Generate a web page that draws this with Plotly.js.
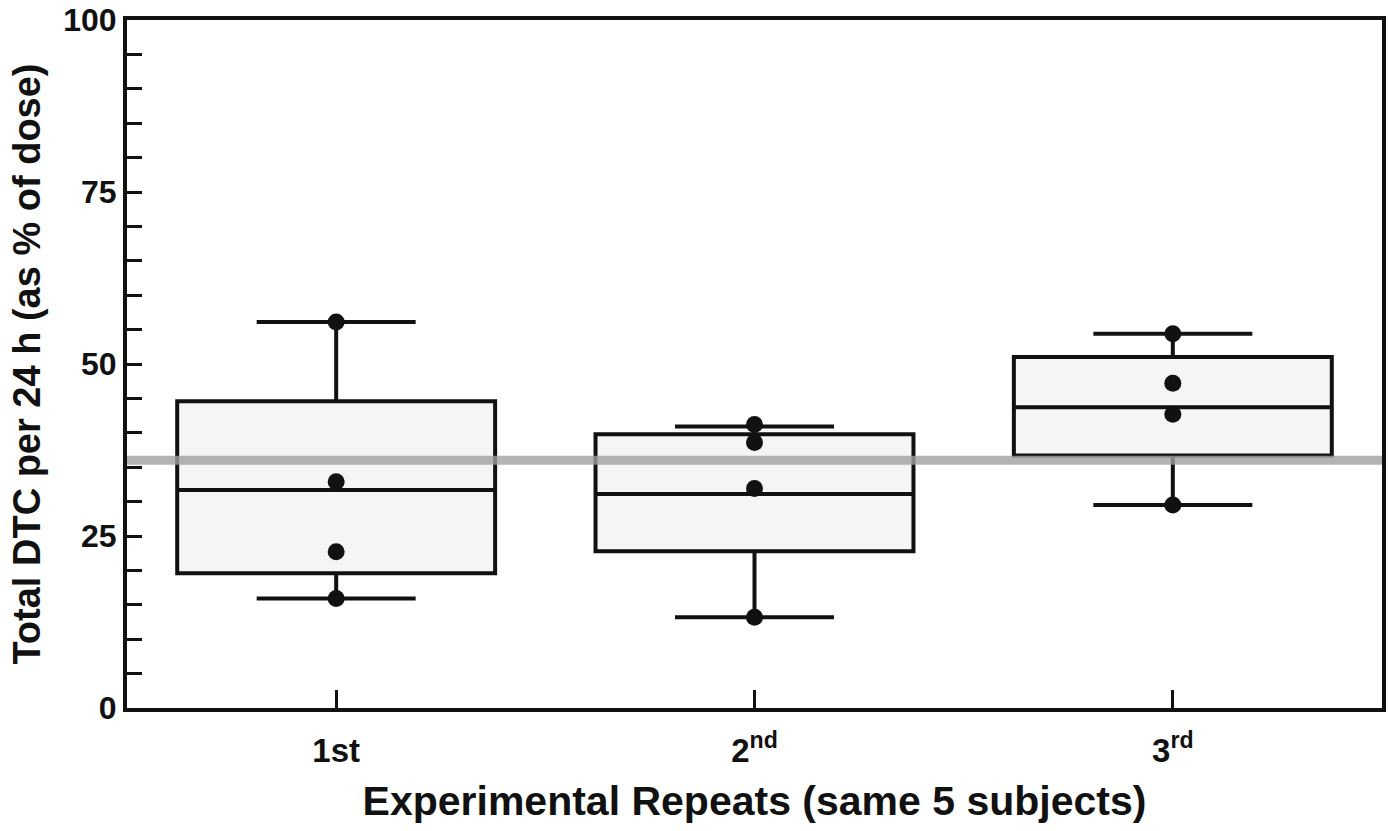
<!DOCTYPE html>
<html>
<head>
<meta charset="utf-8">
<script src="https://cdn.plot.ly/plotly-3.0.1.min.js"></script>
<style>html,body{margin:0;padding:0;background:#fff;}#chart{width:1390px;height:831px;}</style>
</head>
<body>
<div id="chart"></div>
<script>
// Categories (experimental repeats)
const categories = ['1st', '2<sup>nd</sup>', '3<sup>rd</sup>'];
const positions = [0, 1, 2];

// Box statistics
const q1Values = [19.6, 22.8, 36.7];
const medianValues = [31.7, 31.1, 43.7];
const q3Values = [44.6, 39.8, 51.0];
const lowerFenceValues = [15.9, 13.2, 29.5];
const upperFenceValues = [56.1, 40.9, 54.4];

// Individual subject values (visible dots)
const repeat1Points = [56.1, 32.9, 22.7, 15.9];
const repeat2Points = [41.2, 38.6, 31.9, 13.2];
const repeat3Points = [54.4, 47.2, 42.7, 29.5];

// Reference line
const referenceValue = 36;

const pointSets = [repeat1Points, repeat2Points, repeat3Points];
const dotX = [], dotY = [];
pointSets.forEach((pts, i) => pts.forEach(v => { dotX.push(positions[i]); dotY.push(v); }));

const boxTrace = {
  type: 'box',
  x: positions,
  q1: q1Values,
  median: medianValues,
  q3: q3Values,
  lowerfence: lowerFenceValues,
  upperfence: upperFenceValues,
  boxpoints: false,
  width: 0.76,
  whiskerwidth: 0.5,
  fillcolor: 'rgba(200,200,200,0.18)',
  line: {color: '#111', width: 4},
  hoverinfo: 'skip',
  showlegend: false
};

const refTrace = {
  type: 'scatter',
  mode: 'lines',
  x: [-0.5, 2.5],
  y: [referenceValue, referenceValue],
  line: {color: 'rgba(160,160,160,0.8)', width: 9},
  hoverinfo: 'skip',
  showlegend: false
};

const dotTrace = {
  type: 'scatter',
  mode: 'markers',
  x: dotX,
  y: dotY,
  marker: {color: '#111', size: 17},
  hoverinfo: 'skip',
  showlegend: false
};

const fontFam = 'Liberation Sans, Arial, sans-serif';

const layout = {
  width: 1390,
  height: 831,
  margin: {l: 127, r: 8, t: 20, b: 123},
  paper_bgcolor: '#fff',
  plot_bgcolor: '#fff',
  showlegend: false,
  xaxis: {
    range: [-0.5, 2.5],
    tickvals: positions,
    ticktext: categories,
    ticks: 'inside',
    ticklen: 18,
    tickwidth: 3,
    tickcolor: '#111',
    ticklabelstandoff: 10,
    showline: true,
    mirror: true,
    linewidth: 4,
    linecolor: '#111',
    showgrid: false,
    zeroline: false,
    automargin: false,
    tickfont: {family: fontFam, size: 33, color: '#111', weight: 700},
    title: {
      text: 'Experimental Repeats (same 5 subjects)',
      font: {family: fontFam, size: 41, color: '#111', weight: 700},
      standoff: 20
    }
  },
  yaxis: {
    range: [0, 100],
    tickvals: [0, 25, 50, 75, 100],
    ticks: 'inside',
    ticklen: 15,
    tickwidth: 3,
    tickcolor: '#111',
    minor: {dtick: 5, ticks: 'inside', ticklen: 15, tickwidth: 3, tickcolor: '#111', showgrid: false},
    showline: true,
    mirror: true,
    linewidth: 4,
    linecolor: '#111',
    showgrid: false,
    zeroline: false,
    automargin: false,
    tickfont: {family: fontFam, size: 32, color: '#111', weight: 700},
    title: {
      text: 'Total DTC per 24 h (as % of dose)',
      font: {family: fontFam, size: 38, color: '#111', weight: 700},
      standoff: 12
    }
  }
};

Plotly.newPlot('chart', [refTrace, boxTrace, dotTrace], layout, {displayModeBar: false, staticPlot: true});
</script>
</body>
</html>
